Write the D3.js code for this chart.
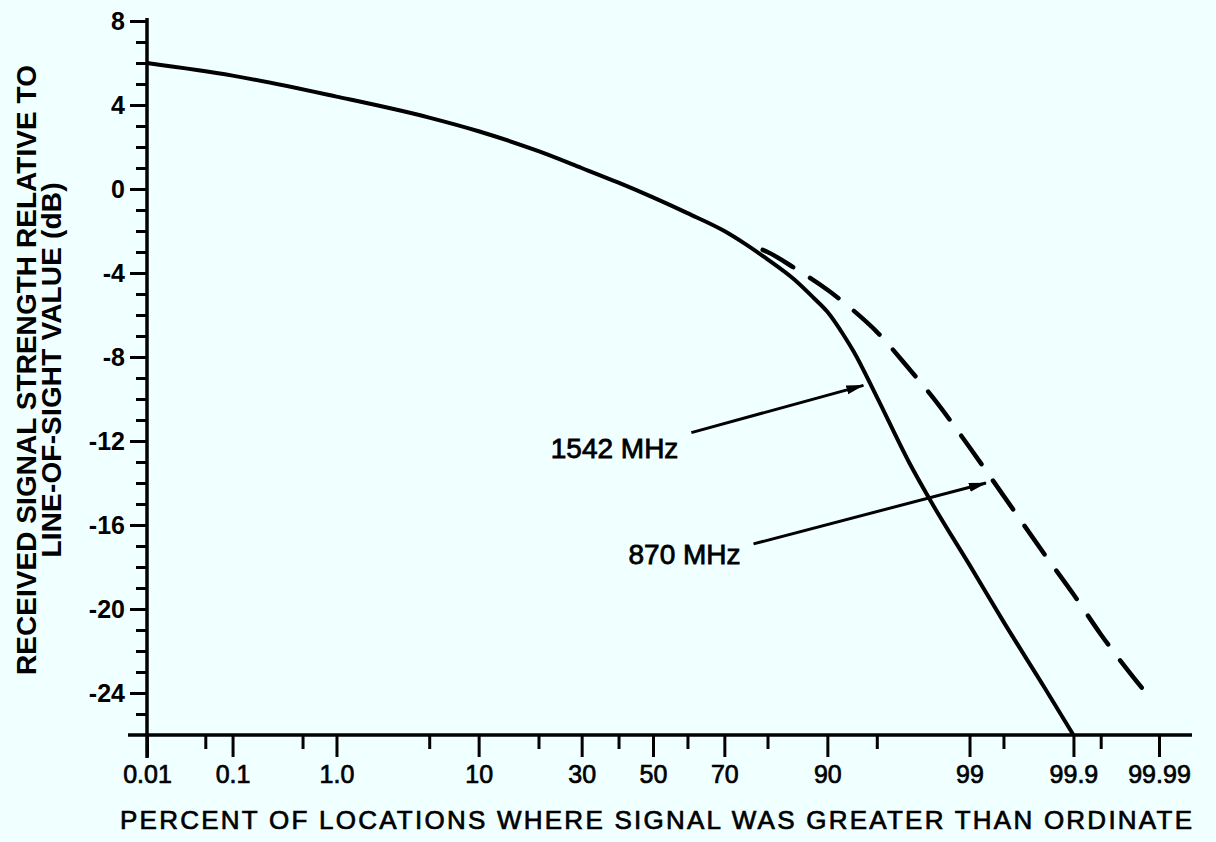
<!DOCTYPE html>
<html>
<head>
<meta charset="utf-8">
<script src="https://cdn.jsdelivr.net/npm/d3@7"></script>
<style>
  body { margin: 0; background: #f0ffff; }
  svg { display: block; }
  .tick text { font-family: "Liberation Sans", Arial, sans-serif; }
</style>
</head>
<body>
<div class="chart"></div>
<script>
// Data (percent of locations, dB relative to line-of-sight)
var solidPct = [0.01, 0.1, 1, 5, 10, 20, 30, 40, 50, 60, 70, 75, 80, 85, 88, 90, 92, 93, 95, 97, 98, 99, 99.5, 99.8, 99.9];
var solidDb  = [6.0, 5.4, 4.4, 3.4, 2.75, 1.8, 1.0, 0.3, -0.4, -1.15, -2.0, -2.6, -3.35, -4.3, -5.15, -5.85, -7.0, -7.75, -9.9, -13.0, -15.0, -17.9, -20.6, -23.75, -26.0];

var dashPct = [79, 80, 85, 90, 93, 95, 97, 98, 99, 99.5, 99.8, 99.9, 99.95, 99.984];
var dashDb  = [-2.9, -3.0, -3.75, -4.8, -5.8, -6.8, -8.55, -9.9, -12.3, -14.6, -17.4, -19.3, -21.2, -23.8];

var majorPct = [0.01, 0.1, 1, 10, 30, 50, 70, 90, 99, 99.9, 99.99];
var majorLabels = ["0.01", "0.1", "1.0", "10", "30", "50", "70", "90", "99", "99.9", "99.99"];
var minorPct = [0.05, 0.5, 5, 20, 40, 60, 80, 95, 99.5, 99.95];

var yMajor = [-24, -20, -16, -12, -8, -4, 0, 4, 8];

var seriesNames = ["1542 MHz", "870 MHz"];
var labelPct = [57.4, 74.0];
var labelDb = [-12.8, -17.85];
var arrowFromPct = [61.1, 77.0];
var arrowFromDb = [-11.6, -16.9];
var arrowToPct = [93.9, 99.28];
var arrowToDb = [-9.35, -14.0];

var svgWidth = 1216;
var svgHeight = 842;

// inverse normal CDF (Acklam) for the probability axis
function probit(p) {
  var a = [-3.969683028665376e+01, 2.209460984245205e+02, -2.759285104469687e+02, 1.383577518672690e+02, -3.066479806614716e+01, 2.506628277459239e+00];
  var b = [-5.447609879822406e+01, 1.615858368580409e+02, -1.556989798598866e+02, 6.680131188771972e+01, -1.328068155288572e+01];
  var c = [-7.784894002430293e-03, -3.223964580411365e-01, -2.400758277161838e+00, -2.549732539343734e+00, 4.374664141464968e+00, 2.938163982698783e+00];
  var d = [7.784695709041462e-03, 3.224671290700398e-01, 2.445134137142996e+00, 3.754408661907416e+00];
  var pl = 0.02425, q, r;
  if (p < pl) {
    q = Math.sqrt(-2 * Math.log(p));
    return (((((c[0]*q+c[1])*q+c[2])*q+c[3])*q+c[4])*q+c[5]) / ((((d[0]*q+d[1])*q+d[2])*q+d[3])*q+1);
  }
  if (p > 1 - pl) {
    q = Math.sqrt(-2 * Math.log(1 - p));
    return -(((((c[0]*q+c[1])*q+c[2])*q+c[3])*q+c[4])*q+c[5]) / ((((d[0]*q+d[1])*q+d[2])*q+d[3])*q+1);
  }
  q = p - 0.5; r = q * q;
  return (((((a[0]*r+a[1])*r+a[2])*r+a[3])*r+a[4])*r+a[5])*q / (((((b[0]*r+b[1])*r+b[2])*r+b[3])*r+b[4])*r+1);
}

var svg = d3.select(".chart")
  .append("svg")
  .attr("width", svgWidth)
  .attr("height", svgHeight);

svg.append("rect")
  .attr("width", svgWidth)
  .attr("height", svgHeight)
  .attr("fill", "#f0ffff");

// scales: x works in normal-deviate units
var xScale = d3.scaleLinear()
  .domain([probit(0.0001), probit(0.9999)])
  .range([147, 1159]);
var yScale = d3.scaleLinear()
  .domain([-26, 8])
  .range([735, 21]);

var xp = function(pct) { return xScale(probit(pct / 100)); };

var font = '"Liberation Sans", Arial, sans-serif';

// x axis ticks
var xAxis = d3.axisBottom(xScale)
  .tickValues(majorPct.map(function(p) { return probit(p / 100); }))
  .tickFormat(function(d, i) { return majorLabels[i]; })
  .tickSize(22)
  .tickPadding(8);
var xMinor = d3.axisBottom(xScale)
  .tickValues(minorPct.map(function(p) { return probit(p / 100); }))
  .tickFormat("")
  .tickSize(14);

var gx = svg.append("g").attr("transform", "translate(0,735)").call(xAxis);
var gx2 = svg.append("g").attr("transform", "translate(0,735)").call(xMinor);
[gx, gx2].forEach(function(g) {
  g.select(".domain").remove();
  g.selectAll("line").attr("stroke", "#000").attr("stroke-width", 3);
});
gx.selectAll("text")
  .attr("font-size", 25)
  .attr("fill", "#000")
  .attr("stroke", "#000")
  .attr("stroke-width", 0.7);

// y axis ticks
var yAxis = d3.axisLeft(yScale)
  .tickValues(yMajor)
  .tickFormat(d3.format("d"))
  .tickSize(17)
  .tickPadding(5);
var yMinor = d3.axisLeft(yScale)
  .tickValues(d3.range(-25, 9).filter(function(v) { return yMajor.indexOf(v) < 0; }))
  .tickFormat("")
  .tickSize(11);

var gy = svg.append("g").attr("transform", "translate(147,0)").call(yAxis);
var gy2 = svg.append("g").attr("transform", "translate(147,0)").call(yMinor);
[gy, gy2].forEach(function(g) {
  g.select(".domain").remove();
  g.selectAll("line").attr("stroke", "#000").attr("stroke-width", 3);
});
gy.selectAll("text")
  .attr("font-size", 25)
  .attr("font-weight", "bold")
  .attr("fill", "#000")
  .text(function(d) { return d < 0 ? "-" + Math.abs(d) : d; });

// axis lines
svg.append("line")
  .attr("x1", 147).attr("x2", 147)
  .attr("y1", yScale(8) - 3).attr("y2", 758)
  .attr("stroke", "#000").attr("stroke-width", 3.5);
svg.append("line")
  .attr("x1", 128).attr("x2", 1192)
  .attr("y1", yScale(-26)).attr("y2", yScale(-26))
  .attr("stroke", "#000").attr("stroke-width", 3.5);

// curves
var line = d3.line()
  .x(function(d) { return xp(d[0]); })
  .y(function(d) { return yScale(d[1]); })
  .curve(d3.curveMonotoneX);

svg.append("path")
  .datum(d3.zip(solidPct, solidDb))
  .attr("d", line)
  .attr("fill", "none")
  .attr("stroke", "#000")
  .attr("stroke-width", 4);

svg.append("path")
  .datum(d3.zip(dashPct, dashDb))
  .attr("d", line)
  .attr("fill", "none")
  .attr("stroke", "#000")
  .attr("stroke-width", 4.5)
  .attr("stroke-linecap", "round")
  .attr("stroke-dasharray", "35,20");

// arrows + labels
svg.append("defs").append("marker")
  .attr("id", "head")
  .attr("viewBox", "0 0 18 10")
  .attr("refX", 17).attr("refY", 5)
  .attr("markerUnits", "userSpaceOnUse")
  .attr("markerWidth", 18).attr("markerHeight", 10)
  .attr("orient", "auto")
  .append("path")
  .attr("d", "M0,0.5 L18,5 L0,9.5 Z")
  .attr("fill", "#000");

seriesNames.forEach(function(name, i) {
  svg.append("line")
    .attr("x1", xp(arrowFromPct[i])).attr("y1", yScale(arrowFromDb[i]))
    .attr("x2", xp(arrowToPct[i])).attr("y2", yScale(arrowToDb[i]))
    .attr("stroke", "#000").attr("stroke-width", 3)
    .attr("marker-end", "url(#head)");
  svg.append("text")
    .attr("x", xp(labelPct[i]))
    .attr("y", yScale(labelDb[i]))
    .attr("text-anchor", "end")
    .attr("font-family", font)
    .attr("font-size", 28)
    .attr("fill", "#000")
    .attr("stroke", "#000")
    .attr("stroke-width", 0.8)
    .text(name);
});

// axis titles
svg.append("text")
  .attr("x", 120).attr("y", 829)
  .attr("font-family", font)
  .attr("font-size", 26)
  .attr("textLength", 1072)
  .attr("lengthAdjust", "spacing")
  .attr("fill", "#000")
  .attr("stroke", "#000")
  .attr("stroke-width", 0.7)
  .text("PERCENT OF LOCATIONS WHERE SIGNAL WAS GREATER THAN ORDINATE");

svg.append("text")
  .attr("transform", "translate(36,370) rotate(-90)")
  .attr("text-anchor", "middle")
  .attr("font-family", font)
  .attr("font-size", 28)
  .attr("font-weight", "bold")
  .attr("textLength", 610)
  .attr("lengthAdjust", "spacing")
  .attr("fill", "#000")
  .text("RECEIVED SIGNAL STRENGTH RELATIVE TO");

svg.append("text")
  .attr("transform", "translate(61,370) rotate(-90)")
  .attr("text-anchor", "middle")
  .attr("font-family", font)
  .attr("font-size", 28)
  .attr("font-weight", "bold")
  .attr("textLength", 375)
  .attr("lengthAdjust", "spacing")
  .attr("fill", "#000")
  .text("LINE-OF-SIGHT VALUE (dB)");
</script>
</body>
</html>
